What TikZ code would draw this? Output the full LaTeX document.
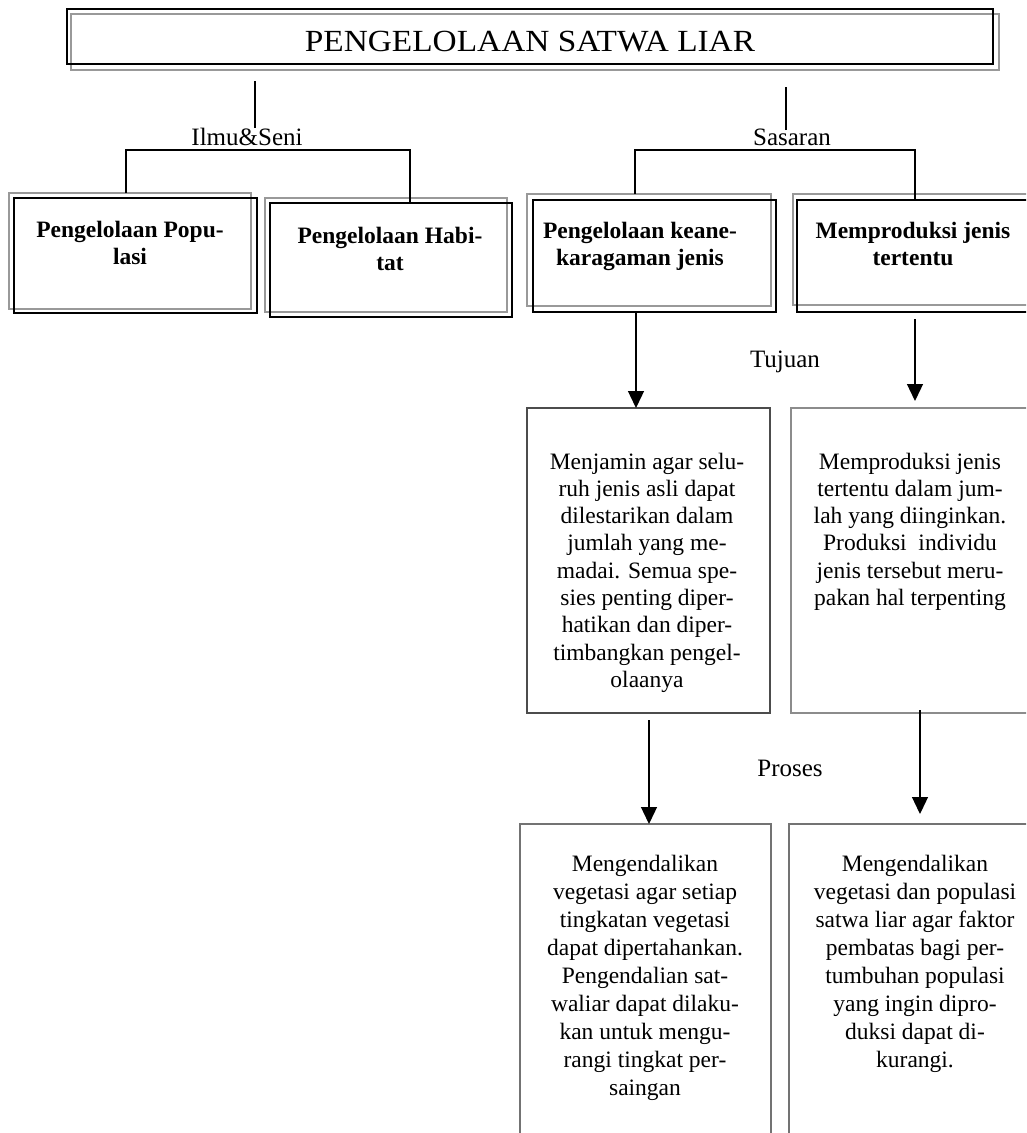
\documentclass[tikz,border=0pt]{standalone}
\usepackage{fontspec}
\setmainfont{Liberation Serif}
\usetikzlibrary{arrows.meta,calc}
\begin{document}
\begin{tikzpicture}[x=1pt,y=-1pt,
  shadowbox/.style={draw=black!40,line width=1.8pt},
  conn/.style={line width=1.3pt,draw=black},
  arr/.style={conn,-{Triangle[width=16pt,length=17pt]}},
  lbl/.style={inner sep=0pt,anchor=base,font=\fontsize{25}{30}\selectfont},
  btxt/.style={inner sep=0pt,anchor=base,align=center,font=\fontsize{23.5}{27.5}\selectfont\bfseries},
  ptxt/.style={inner sep=0pt,anchor=base,align=center,font=\fontsize{23.5}{27.3}\selectfont}]
\useasboundingbox (0,0) rectangle (1026,1133);
\clip (0,0) rectangle (1026,1133);
\fill[white] (0,0) rectangle (1026,1133);

% title
\draw[shadowbox] (71,14) rectangle (999,70);
\node[draw=black,line width=2pt,outer sep=0pt,anchor=north west,minimum width=926pt,minimum height=55pt,inner sep=0pt] (title) at (67,9) {};
\node[inner sep=0pt,anchor=base,xscale=1.15,yscale=1.06,font=\fontsize{29}{30}\selectfont] (ttext) at (530,51) {PENGELOLAAN SATWA LIAR};

% labels
\node[lbl] (ilmu) at (247,145) {Ilmu\&Seni};
\node[lbl] (sasaran) at (792,145) {Sasaran};
\coordinate (ilmuTop) at (255,81);
\coordinate (ilmuBot) at (255,128);
\coordinate (sasTop) at (786,87);
\coordinate (sasBot) at (786,130);
\draw[conn] (ilmuTop) -- (ilmuBot);
\draw[conn] (sasTop) -- (sasBot);

% level 2 boxes
\draw[shadowbox] (9,193) rectangle (251,309);
\node[draw=black,line width=2pt,outer sep=0pt,anchor=north west,minimum width=243pt,minimum height=115pt,inner sep=0pt] (pop) at (14,198) {};
\draw[shadowbox] (265,198) rectangle (507,312);
\node[draw=black,line width=2pt,outer sep=0pt,anchor=north west,minimum width=242pt,minimum height=114pt,inner sep=0pt] (hab) at (270,203) {};
\draw[shadowbox] (527,194) rectangle (771,306);
\node[draw=black,line width=2pt,outer sep=0pt,anchor=north west,minimum width=243pt,minimum height=112pt,inner sep=0pt] (keane) at (533,200) {};
\draw[shadowbox] (793,194) rectangle (1040,305);
\node[draw=black,line width=2pt,outer sep=0pt,anchor=north west,minimum width=250pt,minimum height=112pt,inner sep=0pt] (mempro) at (797,200) {};

% (base anchor = baseline of last line)
\node[btxt] (tpop) at (130,264.5) {Pengelolaan Popu-\\lasi};
\node[btxt] (thab) at (390,270.5) {Pengelolaan Habi-\\tat};
\node[btxt] (tkea) at (640,265.5) {Pengelolaan keane-\\karagaman jenis};
\node[btxt] (tmem) at (913,265.5) {Memproduksi jenis\\tertentu};

% branching connectors
\coordinate (hl1) at (126,150);
\coordinate (hr1) at (410,150);
\coordinate (hl2) at (635,150);
\coordinate (hr2) at (915,150);
\draw[conn] (126,193) -- (hl1) -- (hr1) -- (hr1 |- hab.north);
\draw[conn] (635,194) -- (hl2) -- (hr2) -- (hr2 |- mempro.north);

% level 3 boxes
\node[draw=black!70,line width=2.5pt,outer sep=0pt,anchor=north west,minimum width=243pt,minimum height=305pt,inner sep=0pt] (tuj1) at (527,408) {};
\node[draw=black!45,line width=1.6pt,outer sep=0pt,anchor=north west,minimum width=250pt,minimum height=305pt,inner sep=0pt] (tuj2) at (791,408) {};
\node[ptxt] (ttuj1) at (647,687.4) {Menjamin agar selu-\\ruh jenis asli dapat\\dilestarikan dalam\\jumlah yang me-\\madai. Semua spe-\\sies penting diper-\\hatikan dan diper-\\timbangkan pengel-\\olaanya};
\node[ptxt] (ttuj2) at (910,605.5) {Memproduksi jenis\\tertentu dalam jum-\\lah yang diinginkan.\\Produksi\ \ individu\\jenis tersebut meru-\\pakan hal terpenting};

\node[lbl] (tujuan) at (785,367) {Tujuan};
\coordinate (xa1) at (636,0);
\coordinate (xa2) at (915,0);
\coordinate (xb1) at (649,0);
\coordinate (xb2) at (920,0);
\draw[arr] (keane.south -| xa1) -- (tuj1.north -| xa1);
\draw[arr] ($(mempro.south -| xa2)+(0,7)$) -- ($(tuj2.north -| xa2)+(0,-7)$);

% level 4 boxes
\node[draw=black!55,line width=1.6pt,outer sep=0pt,anchor=north west,minimum width=251pt,minimum height=330pt,inner sep=0pt] (pro1) at (520,824) {};
\node[draw=black!55,line width=1.6pt,outer sep=0pt,anchor=north west,minimum width=250pt,minimum height=330pt,inner sep=0pt] (pro2) at (789,824) {};
\node[ptxt,font=\fontsize{23.5}{28}\selectfont] (tpro1) at (645,1095) {Mengendalikan\\vegetasi agar setiap\\tingkatan vegetasi\\dapat dipertahankan.\\Pengendalian sat-\\waliar dapat dilaku-\\kan untuk mengu-\\rangi tingkat per-\\saingan};
\node[ptxt,font=\fontsize{23.5}{28}\selectfont] (tpro2) at (915,1067) {Mengendalikan\\vegetasi dan populasi\\satwa liar agar faktor\\pembatas bagi per-\\tumbuhan populasi\\yang ingin dipro-\\duksi dapat di-\\kurangi.};

\node[lbl] (proses) at (790,776) {Proses};
\draw[arr] ($(tuj1.south -| xb1)+(0,7)$) -- (pro1.north -| xb1);
\draw[arr] ($(tuj2.south -| xb2)+(0,-3)$) -- ($(pro2.north -| xb2)+(0,-10)$);
\end{tikzpicture}
\end{document}
